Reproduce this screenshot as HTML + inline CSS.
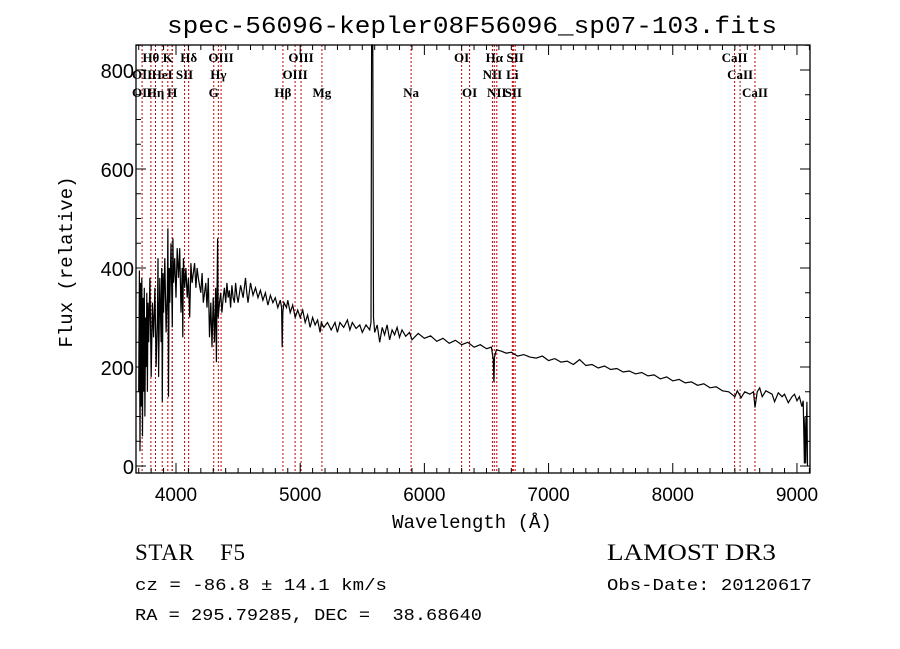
<!DOCTYPE html>
<html><head><meta charset="utf-8"><style>
html,body{margin:0;padding:0;background:#fff;}
svg{display:block;}
.t{font-family:"Liberation Sans",sans-serif;}
.r{font-family:"Liberation Serif",serif;}
.m{font-family:"Liberation Mono",monospace;}
.s{font-family:"Liberation Serif",serif;font-weight:bold;font-size:13px;}
</style></head><body>
<svg id="c" width="900" height="649" viewBox="0 0 900 649">
<rect width="900" height="649" fill="#fff"/>
<text x="167" y="33" textLength="610" lengthAdjust="spacingAndGlyphs" class="m" font-size="24">spec-56096-kepler08F56096_sp07-103.fits</text>
<g id="lines"></g>
<g id="labels"></g>
<path id="spec" fill="none" stroke="#000" stroke-width="1.2"/>
<g id="axes"></g>
<text x="472" y="528" text-anchor="middle" class="m" font-size="19">Wavelength (Å)</text>
<text transform="translate(72,262) rotate(-90)" text-anchor="middle" class="m" font-size="19">Flux (relative)</text>
<text x="135" y="560" textLength="110" lengthAdjust="spacing" class="r" font-size="23" xml:space="preserve">STAR    F5</text>
<text x="607" y="560" textLength="169" lengthAdjust="spacingAndGlyphs" class="r" font-size="23">LAMOST DR3</text>
<text x="135" y="590" textLength="252" lengthAdjust="spacingAndGlyphs" class="m" font-size="17">cz = -86.8 ± 14.1 km/s</text>
<text x="607" y="590" textLength="205" lengthAdjust="spacingAndGlyphs" class="m" font-size="17">Obs-Date: 20120617</text>
<text x="135" y="620" textLength="347" lengthAdjust="spacingAndGlyphs" class="m" font-size="17" xml:space="preserve">RA = 295.79285, DEC =  38.68640</text>
</svg>
<script>
const wave=[3700,3705,3710,3715,3720,3725,3730,3735,3740,3745,3750,3755,3760,3765,3770,3775,3780,3790,3800,3810,3820,3830,3840,3850,3855,3860,3870,3880,3885,3890,3895,3900,3910,3920,3930,3935,3940,3945,3950,3960,3970,3975,3980,3990,4000,4010,4020,4030,4040,4050,4055,4060,4070,4080,4090,4100,4110,4120,4130,4150,4160,4170,4180,4200,4210,4220,4240,4250,4260,4270,4280,4290,4300,4310,4320,4325,4330,4335,4340,4350,4360,4370,4380,4390,4400,4410,4420,4430,4440,4450,4460,4470,4480,4490,4500,4520,4540,4560,4570,4580,4600,4620,4640,4660,4680,4700,4720,4740,4760,4780,4800,4820,4840,4850,4855,4860,4870,4890,4900,4920,4940,4960,4980,5000,5020,5040,5060,5080,5100,5120,5140,5160,5170,5190,5220,5250,5280,5300,5320,5350,5380,5400,5420,5450,5480,5500,5530,5560,5570,5575,5585,5590,5600,5620,5640,5660,5680,5700,5720,5740,5760,5780,5800,5820,5850,5880,5900,5950,6000,6050,6100,6150,6200,6250,6300,6350,6400,6450,6500,6540,6555,6560,6565,6580,6620,6660,6700,6750,6800,6850,6900,6950,7000,7050,7100,7150,7200,7250,7300,7350,7400,7450,7500,7550,7600,7650,7700,7750,7800,7850,7900,7950,8000,8050,8100,8150,8200,8250,8300,8350,8400,8450,8500,8520,8550,8580,8620,8650,8662,8680,8700,8720,8750,8800,8820,8850,8880,8900,8930,8960,8980,9000,9020,9040,9050,9060,9065,9070,9080,9085];
const flux=[150,395,30,370,120,380,60,340,150,360,100,300,200,350,150,330,250,380,180,330,260,360,200,300,420,180,380,250,400,130,390,310,420,270,350,480,140,400,330,450,280,460,370,420,340,440,380,440,310,400,260,420,360,400,340,380,300,410,370,410,360,400,380,350,390,330,370,320,380,260,330,240,340,250,360,210,340,460,300,330,350,310,340,360,330,370,340,355,320,365,340,330,370,345,330,365,340,380,350,330,370,345,360,340,355,335,350,325,345,330,340,320,335,320,240,310,330,320,335,310,325,300,315,300,315,290,305,280,300,285,295,270,290,280,290,275,290,270,290,280,295,275,290,278,285,270,285,275,290,860,860,300,270,285,250,280,265,285,255,275,265,280,260,275,262,270,255,268,258,263,252,258,248,254,245,250,240,245,237,240,215,170,220,235,232,228,230,222,225,220,218,222,213,217,210,212,205,215,203,205,198,202,195,197,190,192,186,189,182,184,176,180,172,175,168,170,163,166,158,160,152,150,140,152,138,150,145,150,118,150,158,140,152,145,130,148,140,145,128,140,145,132,140,120,132,5,100,5,130,0];
const xTicks=[4000,5000,6000,7000,8000,9000];
const yTicks=[0,200,400,600,800];
const lineWaves=[3727,3798,3835,3889,3934,3969,3970,4069,4102,4304,4341,4363,4861,4959,5007,5175,5893,6300,6364,6548,6563,6583,6708,6716,6731,8498,8542,8662];
const lineLabels=[["Hθ",3798,1],["K",3934,1],["Hδ",4102,1],["OIII",4363,1],["OIII",5007,1],["OI",6300,1],["Hα",6563,1],["SII",6731,1],["CaII",8498,1],
["OII",3727,2],["HeI",3889,2],["SII",4069,2],["Hγ",4341,2],["OIII",4959,2],["NII",6548,2],["Li",6708,2],["CaII",8542,2],
["OII",3727,3],["Hη",3835,3],["H",3969,3],["G",4304,3],["Hβ",4861,3],["Mg",5175,3],["Na",5893,3],["OI",6364,3],["NII",6583,3],["SII",6716,3],["CaII",8662,3]];
const X0=136,X1=810,Y0=45,Y1=473;
const wMin=3678,wMax=9105,fMin=-14.1,fMax=850.5;
const sx=w=>X0+(w-wMin)/(wMax-wMin)*(X1-X0);
const sy=f=>Math.max(Y0,Y1-(f-fMin)/(fMax-fMin)*(Y1-Y0));
const NS="http://www.w3.org/2000/svg";
function mk(t,a,p){const e=document.createElementNS(NS,t);for(const k in a)e.setAttribute(k,a[k]);p.appendChild(e);return e;}
const gl=document.getElementById('lines');
lineWaves.forEach(w=>{const e=mk('line',{x1:sx(w),x2:sx(w),y1:Y0,y2:Y1,stroke:'#c00000','stroke-width':1,'stroke-dasharray':'2,2'},gl);

});
const glb=document.getElementById('labels');
const rowY=[0,62,79,97];
lineLabels.forEach(l=>{const e=mk('text',{x:sx(l[1]),y:rowY[l[2]],'text-anchor':'middle',class:'s'},glb);e.textContent=l[0];

});
let d='';wave.forEach((w,i)=>{d+=(i?'L':'M')+sx(w).toFixed(1)+','+sy(flux[i]).toFixed(1);});
document.getElementById('spec').setAttribute('d',d);
const ga=document.getElementById('axes');
const fr=mk('rect',{x:X0,y:Y0,width:X1-X0,height:Y1-Y0,fill:'none',stroke:'#000','stroke-width':1.3},ga);


for(let w=3700;w<=9100;w+=100){const maj=w%1000===0,L=maj?10:5;
mk('line',{x1:sx(w),x2:sx(w),y1:Y1,y2:Y1-L,stroke:'#000'},ga);mk('line',{x1:sx(w),x2:sx(w),y1:Y0,y2:Y0+L,stroke:'#000'},ga);}
for(let f=0;f<=850;f+=50){const maj=f%200===0,L=maj?10:5;
mk('line',{x1:X0,x2:X0+L,y1:sy(f),y2:sy(f),stroke:'#000'},ga);mk('line',{x1:X1,x2:X1-L,y1:sy(f),y2:sy(f),stroke:'#000'},ga);}
xTicks.forEach(w=>{const e=mk('text',{x:sx(w),y:Y1+28,'text-anchor':'middle',class:'t','font-size':19},ga);e.textContent=w;

});
yTicks.forEach(f=>{const e=mk('text',{x:X0-2,y:sy(f)+8,'text-anchor':'end',class:'t','font-size':20},ga);e.textContent=f;

});
</script>
</body></html>
